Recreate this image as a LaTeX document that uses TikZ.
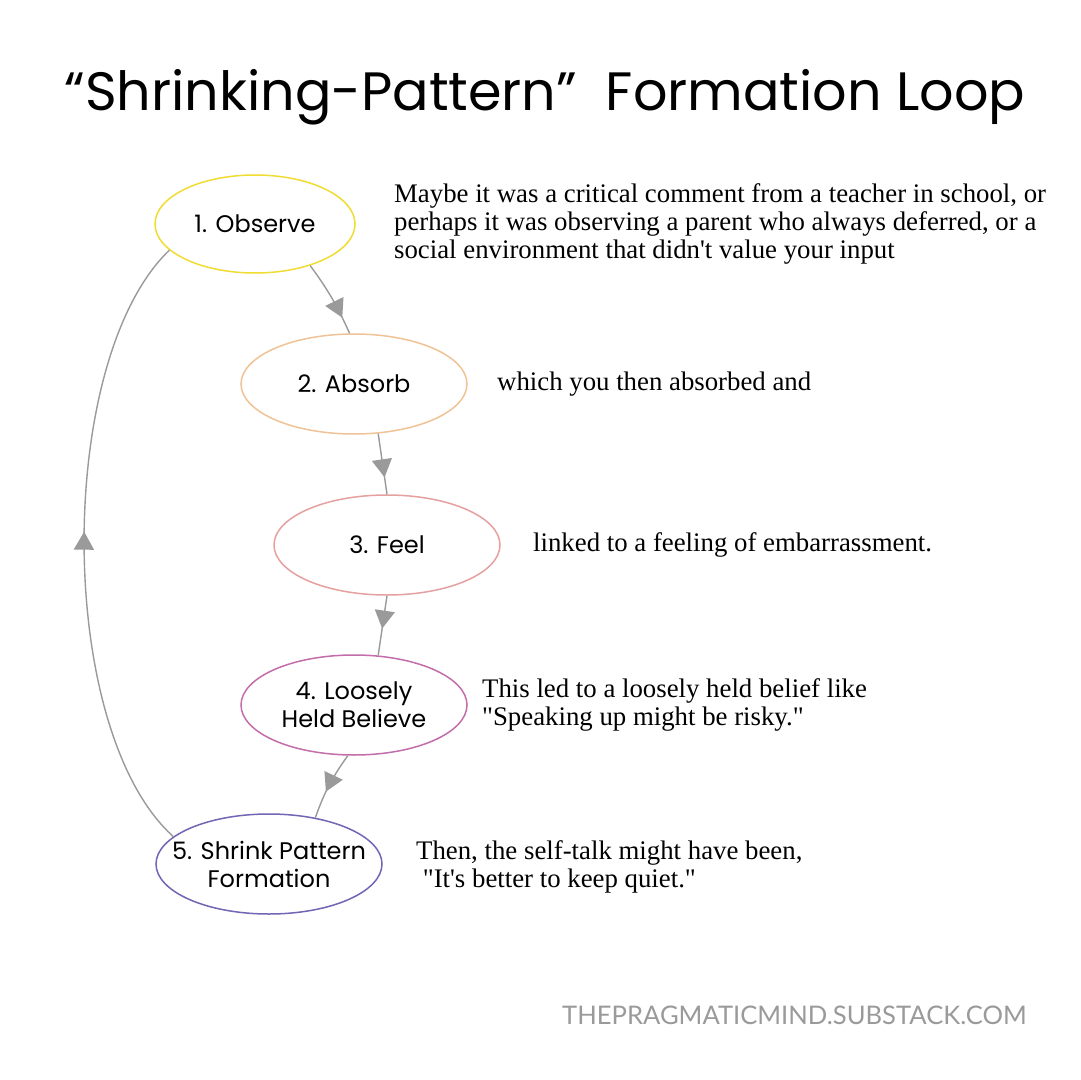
\documentclass[tikz,border=0pt]{standalone}
\usepackage{fontspec}
\setmainfont{Liberation Serif}[Ligatures=TeXOff]
\newfontfamily\handfont{Poppins}
\newfontfamily\footfont{Lato}
\usetikzlibrary{positioning, arrows.meta, shapes.geometric, decorations.markings}

\definecolor{obsYellow}{HTML}{F0DC32}
\definecolor{absOrange}{HTML}{F0C396}
\definecolor{feelRed}{HTML}{E6A0A0}
\definecolor{beliefPink}{HTML}{C36EAA}
\definecolor{shrinkPurple}{HTML}{7364B4}
\definecolor{edgeGray}{HTML}{9A9A9A}

\begin{document}
\begin{tikzpicture}[x=0.5pt, y=-0.5pt, >=Latex]

\tikzset{
  stage/.style={
    ellipse, draw, line width=0.75pt, align=center,
    minimum width=113pt, minimum height=50pt,
    inner sep=0pt, font=\handfont\fontsize{12}{14}\selectfont
  },
  note/.style={anchor=west, align=left, inner sep=0pt,
    font=\fontsize{13.4}{14}\selectfont},
  flow/.style={
    color=edgeGray, line width=0.7pt, postaction={decorate},
    decoration={markings,
      mark=at position #1 with {\arrow{Triangle[length=9pt, width=10pt]}}}
  },
  flow/.default=0.7
}

\useasboundingbox[fill=white] (0,0) rectangle (1080,1080);

% ==========================
% Title
% ==========================
\node[font=\handfont\fontsize{27}{30}\selectfont] (title) at (545,97)
{“Shrinking-Pattern”\ \ Formation Loop};

% ==========================
% Loop stages (top -> bottom)
% ==========================
\node[stage, draw=obsYellow, minimum width=100pt, minimum height=49pt] (obs) at (255,224) {1. Observe};
\node[stage, draw=absOrange, on grid, below right=80pt and 49.5pt of obs] (absorb) {2. Absorb};
\node[stage, draw=feelRed, on grid, below right=80.5pt and 16.5pt of absorb] (feel) {3. Feel};
\node[stage, draw=beliefPink, on grid, below left=80pt and 16.5pt of feel] (belief) {4. Loosely\\Held Believe};
\node[stage, draw=shrinkPurple, inner xsep=-9pt, on grid, below left=79.5pt and 42.5pt of belief] (shrink) {5. Shrink Pattern\\Formation};

% Arrows down the loop
\draw[flow=0.78] (obs.-37) to[bend left=6] (absorb.95);
\draw[flow=0.72] (absorb.-64) -- (feel.north);
\draw[flow=0.55] (feel.south) -- (belief.64);
\draw[flow=0.6] (belief.-97) to[bend right=8] (shrink.45);

% Back to the start
\draw[flow=0.52] (shrink.164) .. controls (55,730) and (55,360) .. (obs.197);

% ==========================
% Side notes
% ==========================
\node[note] (obsTxt) at ([xshift=19pt]obs.east)
{Maybe it was a critical comment from a teacher in school, or\\
perhaps it was observing a parent who always deferred, or a\\
social environment that didn't value your input};
\node[note] (absorbTxt) at ([xshift=14.5pt]absorb.east) {which you then absorbed and};
\node[note] (feelTxt) at ([xshift=16pt]feel.east) {linked to a feeling of embarrassment.};
\node[note] (beliefTxt) at ([xshift=7pt]belief.east)
{This led to a loosely held belief like\\
"Speaking up might be risky."};
\node[note] (shrinkTxt) at ([xshift=16.5pt, yshift=-1.5pt]shrink.east)
{Then, the self-talk might have been,\\
\hspace*{0.25em}"It's better to keep quiet."};

% Footer
\node[font=\footfont\fontsize{12.8}{14}\selectfont, text=edgeGray, anchor=east, inner sep=0pt] (footer) at (1027,1015)
{THEPRAGMATICMIND.SUBSTACK.COM};

\end{tikzpicture}
\end{document}
